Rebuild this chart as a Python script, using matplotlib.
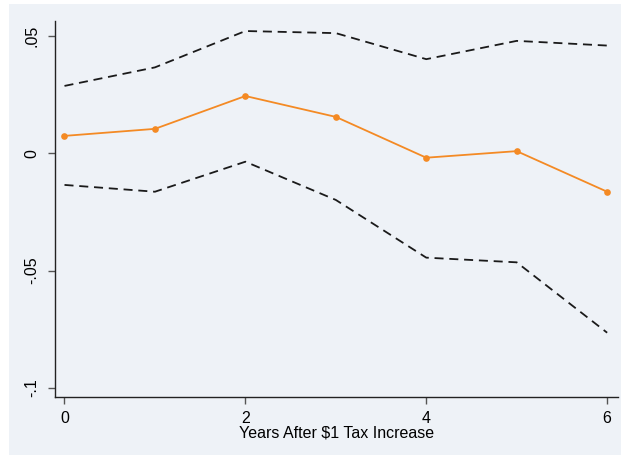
import matplotlib
matplotlib.use("Agg")
import matplotlib.pyplot as plt
from matplotlib.patches import Rectangle

plt.rcParams['font.family'] = ['Liberation Sans', 'DejaVu Sans']

# Event-study estimates with 95% confidence bounds
years = [0, 1, 2, 3, 4, 5, 6]
estimate = [0.0074, 0.0104, 0.0244, 0.0155, -0.0019, 0.0009, -0.0164]
upper_ci = [0.0287, 0.0366, 0.0521, 0.0512, 0.0401, 0.0479, 0.0459]
lower_ci = [-0.0135, -0.0164, -0.0036, -0.0199, -0.0445, -0.0465, -0.0765]

x_ticks = [0, 2, 4, 6]
y_ticks = [0.05, 0.0, -0.05, -0.1]
y_tick_labels = ['.05', '0', '-.05', '-.1']
x_label = 'Years After $1 Tax Increase'

bg = '#eef2f7'
orange = '#f48a24'

W, H = 621, 455
fig = plt.figure(figsize=(W / 100, H / 100), dpi=100, facecolor='white')
fig.patches.append(Rectangle((9 / W, 0), 1 - 9 / W, 1 - 4 / H,
                             transform=fig.transFigure, facecolor=bg,
                             edgecolor='none', zorder=-10))

ax = fig.add_axes([55 / W, (H - 397) / H, (618 - 55) / W, (397 - 20.7) / H])
ax.set_facecolor(bg)

dash = (0, (5.0, 3.2))
ax.plot(years, upper_ci, color='#1a1a1a', lw=1.3, linestyle=dash)
ax.plot(years, lower_ci, color='#1a1a1a', lw=1.3, linestyle=dash)
ax.plot(years, estimate, color=orange, lw=1.3, marker='o', markersize=4.8,
        markeredgewidth=0)

ax.set_xlim(-0.105, 6.12)
ax.set_ylim(-0.1039, 0.0565)

for side in ('top', 'right'):
    ax.spines[side].set_visible(False)
for side in ('left', 'bottom'):
    ax.spines[side].set_color('#222222')
    ax.spines[side].set_linewidth(1.0)

ax.set_xticks(x_ticks)
ax.set_xticklabels([str(t) for t in x_ticks])
ax.set_yticks(y_ticks)
ax.set_yticklabels(y_tick_labels, rotation=90, va='center')
ax.tick_params(axis='both', colors='#555555', labelcolor='black',
               labelsize=11.5, length=5, width=1)
ax.tick_params(axis='y', pad=6)
ax.tick_params(axis='x', pad=5)

ax.set_xlabel(x_label, fontsize=11.5, labelpad=0)

fig.savefig('out.png', dpi=100, facecolor=fig.get_facecolor())
